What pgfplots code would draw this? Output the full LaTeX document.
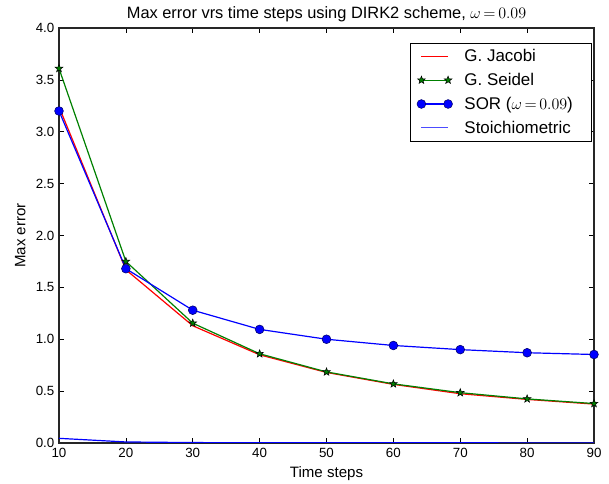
\documentclass[border=0pt]{standalone}
\usepackage{pgfplots}
\pgfplotsset{compat=1.18}
\usepackage{fontspec}
\setmainfont{Liberation Sans}
\definecolor{mplgreen}{rgb}{0,0.5,0}
\definecolor{legblue}{rgb}{0.3,0.3,1}
\pgfdeclareplotmark{fstar}{%
  \pgfpathmoveto{\pgfpointpolar{90}{\pgfplotmarksize}}%
  \pgfpathlineto{\pgfpointpolar{126}{0.42\pgfplotmarksize}}%
  \pgfpathlineto{\pgfpointpolar{162}{\pgfplotmarksize}}%
  \pgfpathlineto{\pgfpointpolar{198}{0.42\pgfplotmarksize}}%
  \pgfpathlineto{\pgfpointpolar{234}{\pgfplotmarksize}}%
  \pgfpathlineto{\pgfpointpolar{270}{0.42\pgfplotmarksize}}%
  \pgfpathlineto{\pgfpointpolar{306}{\pgfplotmarksize}}%
  \pgfpathlineto{\pgfpointpolar{342}{0.42\pgfplotmarksize}}%
  \pgfpathlineto{\pgfpointpolar{18}{\pgfplotmarksize}}%
  \pgfpathlineto{\pgfpointpolar{54}{0.42\pgfplotmarksize}}%
  \pgfpathclose
  \pgfusepathqfillstroke
}
\begin{document}
\begin{tikzpicture}
\useasboundingbox (-44.25pt,-30.75pt) rectangle (412.5pt,332.25pt);
\begin{axis}[
  at={(0,0)}, anchor=south west,
  scale only axis,
  width=401.25pt, height=311.25pt,
  xmin=10, xmax=90, ymin=0, ymax=4,
  xtick={10,20,...,90},
  ytick={0,0.5,...,4.0},
  yticklabel style={/pgf/number format/.cd,fixed,fixed zerofill,precision=1},
  /pgf/number format/assume math mode=true,
  tick align=inside,
  tick style={black, line width=0.5pt},
  major tick length=3.5pt,
  axis line style={black!85, line width=0.9pt},
  ticklabel style={font=\fontsize{10}{12}\selectfont},
  title={Max error vrs time steps using DIRK2 scheme, $\omega\,{=}\,0.09$},
  title style={font=\fontsize{12.3}{14}\selectfont, at={(axis description cs:0.5,1.004)}, anchor=base},
  xlabel={Time steps}, ylabel={Max error},
  label style={font=\fontsize{11.3}{13}\selectfont},
  xlabel style={at={(axis description cs:0.5,-0.0835)}, anchor=base},
  ylabel style={at={(axis description cs:-0.0723,0.5)}, anchor=center},
  legend cell align=left,
  legend style={draw=black, line width=0.7pt, font=\fontsize{12.7}{15}\selectfont,
    inner xsep=5pt, inner ysep=2.5pt, row sep=3.2pt,
    at={(axis description cs:1,1)}, anchor=north east, xshift=-1.5pt, yshift=-11pt,
    nodes={inner xsep=9pt}},
]
\addplot[draw=red, color=red, line width=0.9pt,
  legend image code/.code={\draw[draw=red, line width=0.9pt] (0pt,0pt) -- (20pt,0pt);}] coordinates {
 (10,3.24) (20,1.67) (30,1.13) (40,0.85) (50,0.68) (60,0.565) (70,0.475) (80,0.42) (90,0.375)};
\addlegendentry{G. Jacobi}
\addplot[draw=mplgreen, color=mplgreen, line width=0.9pt, mark=fstar, mark size=3pt, mark options={draw=black, fill=mplgreen, line width=0.4pt},
  legend image code/.code={\draw[draw=mplgreen, line width=0.9pt] (0pt,0pt) -- (20pt,0pt);
    \draw[draw=black, fill=mplgreen, line width=0.4pt] plot[mark=fstar, mark size=3pt, only marks] coordinates {(0pt,0pt) (20pt,0pt)};}] coordinates {
 (10,3.61) (20,1.75) (30,1.155) (40,0.86) (50,0.685) (60,0.57) (70,0.485) (80,0.425) (90,0.38)};
\addlegendentry{G. Seidel}
\addplot[draw=blue, color=blue, line width=0.9pt, mark=*, mark size=3.3pt, mark options={fill=blue, draw=black!60!blue, line width=0.4pt},
  legend image code/.code={\draw[draw=blue, line width=0.9pt] (0pt,0pt) -- (20pt,0pt);
    \draw[draw=black!60!blue, fill=blue, line width=0.4pt] plot[mark=*, mark size=3.3pt, only marks] coordinates {(0pt,0pt) (20pt,0pt)};}] coordinates {
 (10,3.20) (20,1.68) (30,1.28) (40,1.095) (50,1.0) (60,0.94) (70,0.90) (80,0.87) (90,0.853)};
\addlegendentry{SOR ($\omega\,{=}\,0.09$)}
\addplot[draw=blue, color=blue, line width=0.9pt,
  legend image code/.code={\draw[draw=legblue, line width=0.9pt] (0pt,0pt) -- (20pt,0pt);}] coordinates {
 (10,0.045) (20,0.01) (30,0.004) (40,0.003) (50,0.002) (60,0.002) (70,0.002) (80,0.001) (90,0.001)};
\addlegendentry{Stoichiometric}
\end{axis}
\end{tikzpicture}
\end{document}
